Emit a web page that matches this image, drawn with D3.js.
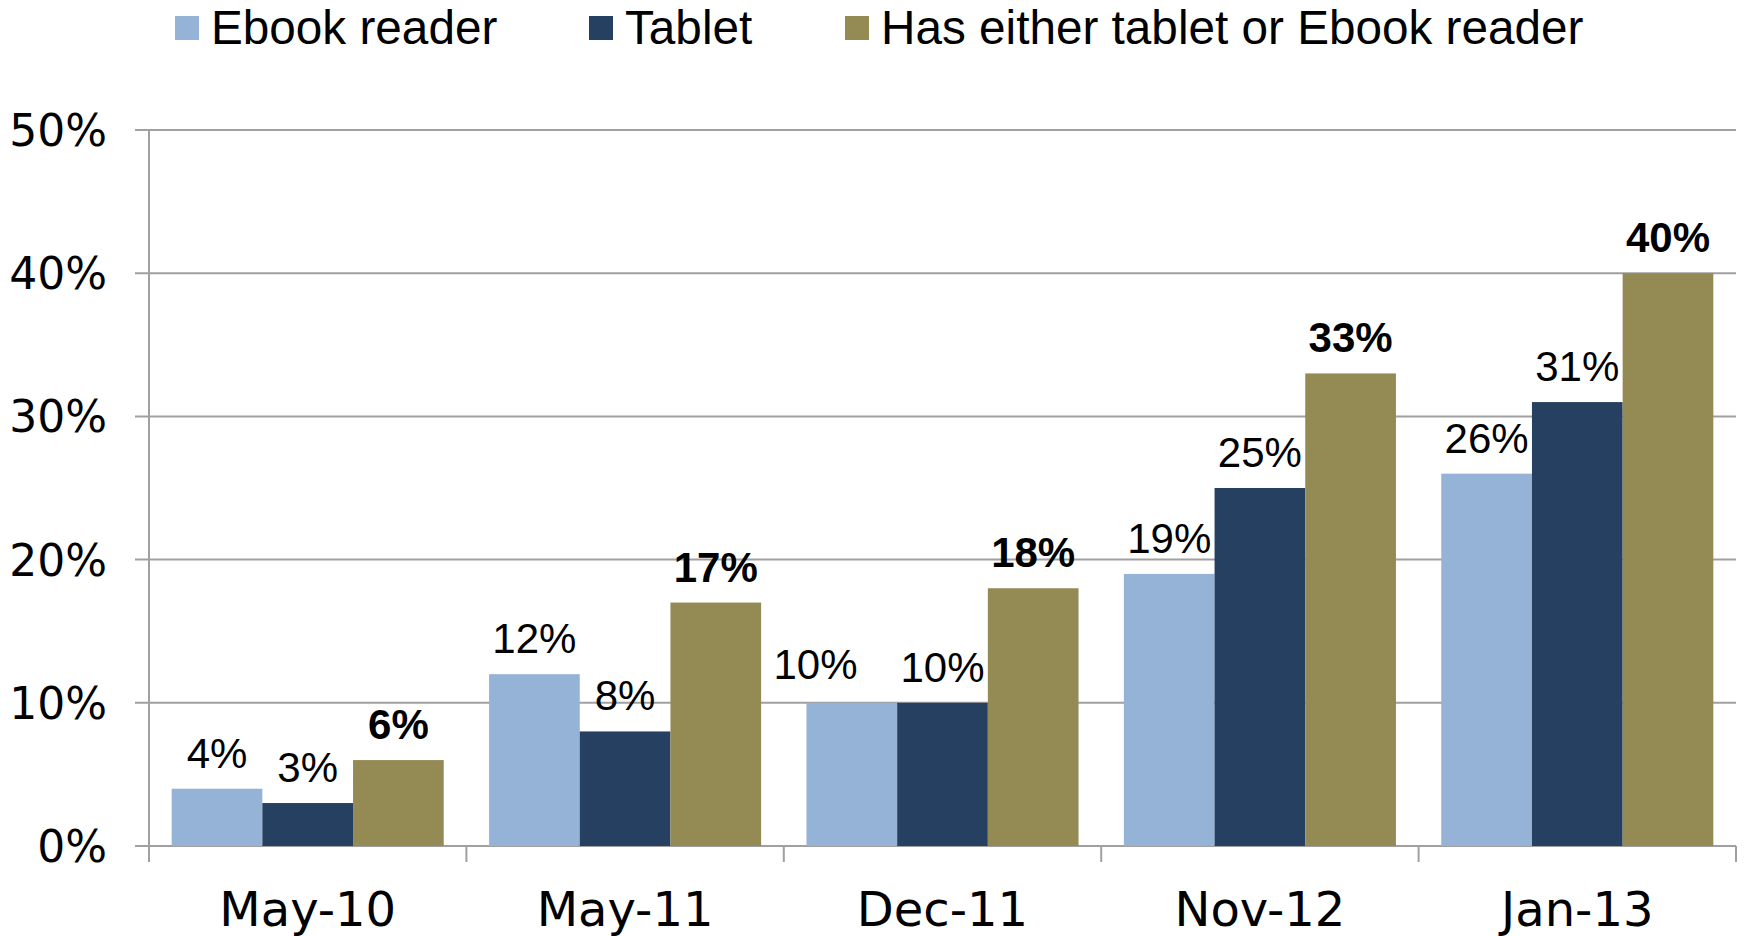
<!DOCTYPE html>
<html lang="en">
<head>
    <meta charset="UTF-8">
    <title>Ebook reader and tablet ownership</title>
    <script src="https://d3js.org/d3.v7.min.js"></script>
    <style>
        body, html {
            margin: 0;
            padding: 0;
            background: #fff;
        }
        .axis-label {
            font-family: "DejaVu Sans", Verdana, sans-serif;
            fill: #000;
        }
        .value-label, .legend text {
            font-family: "Liberation Sans", Arial, sans-serif;
            fill: #000;
        }
    </style>
</head>
<body>
<div id="chart"></div>
<script>
    // chart data
    const categories = ["May-10", "May-11", "Dec-11", "Nov-12", "Jan-13"];
    const seriesNames = ["Ebook reader", "Tablet", "Has either tablet or Ebook reader"];
    const ebookReader = [4, 12, 10, 19, 26];
    const tablet = [3, 8, 10, 25, 31];
    const either = [6, 17, 18, 33, 40];
    const yTicks = [0, 10, 20, 30, 40, 50];
    const colors = ["#95b3d7", "#254061", "#948a54"];

    const seriesValues = [ebookReader, tablet, either];

    const width = 1744, height = 936;
    const margin = {left: 149, right: 8, top: 130, bottom: 90};

    const svg = d3.select("#chart").append("svg")
        .attr("width", width)
        .attr("height", height);

    const x0 = d3.scaleBand()
        .domain(categories)
        .range([margin.left, width - margin.right])
        .padding(0);

    const x1 = d3.scaleBand()
        .domain(d3.range(seriesNames.length))
        .range([0, x0.bandwidth()])
        .paddingInner(0)
        .paddingOuter(0.25);

    const y = d3.scaleLinear()
        .domain([0, 50])
        .range([height - margin.bottom, margin.top]);

    // gridlines
    svg.append("g")
        .selectAll("line")
        .data(yTicks)
        .join("line")
        .attr("x1", margin.left - 14)
        .attr("x2", width - margin.right)
        .attr("y1", d => y(d))
        .attr("y2", d => y(d))
        .attr("stroke", "#a0a0a0")
        .attr("stroke-width", 2);

    // y axis line
    svg.append("line")
        .attr("x1", margin.left).attr("x2", margin.left)
        .attr("y1", y(50)).attr("y2", y(0) + 16)
        .attr("stroke", "#a0a0a0")
        .attr("stroke-width", 2);

    // category boundary ticks
    const bounds = categories.map(c => x0(c) + x0.bandwidth());
    svg.append("g")
        .selectAll("line")
        .data(bounds)
        .join("line")
        .attr("x1", d => d).attr("x2", d => d)
        .attr("y1", y(0)).attr("y2", y(0) + 16)
        .attr("stroke", "#a0a0a0")
        .attr("stroke-width", 2);

    // y tick labels
    svg.append("g")
        .selectAll("text")
        .data(yTicks)
        .join("text")
        .attr("class", "axis-label")
        .attr("x", 107)
        .attr("y", d => y(d) + 16)
        .attr("text-anchor", "end")
        .attr("font-size", 44)
        .text(d => d + "%");

    // x labels
    svg.append("g")
        .selectAll("text")
        .data(categories)
        .join("text")
        .attr("class", "axis-label")
        .attr("x", d => x0(d) + x0.bandwidth() / 2)
        .attr("y", 926)
        .attr("text-anchor", "middle")
        .attr("font-size", 48)
        .text(d => d);

    // bars
    const groups = svg.append("g")
        .selectAll("g")
        .data(categories)
        .join("g")
        .attr("transform", d => `translate(${x0(d)},0)`);

    groups.selectAll("rect")
        .data((c, i) => seriesValues.map((s, j) => ({s: j, v: s[i]})))
        .join("rect")
        .attr("x", d => x1(d.s))
        .attr("width", x1.bandwidth())
        .attr("y", d => y(d.v))
        .attr("height", d => y(0) - y(d.v))
        .attr("fill", d => colors[d.s]);

    groups.selectAll("text")
        .data((c, i) => seriesValues.map((s, j) => ({s: j, v: s[i]})))
        .join("text")
        .attr("class", "value-label")
        .attr("x", d => x1(d.s) + x1.bandwidth() / 2)
        .attr("y", d => y(d.v) - 21)
        .attr("text-anchor", "middle")
        .attr("font-size", 42)
        .attr("font-weight", d => d.s === 2 ? "bold" : "normal")
        .text(d => d.v + "%");

    // nudge a label left when it sits level with and crowds its neighbour
    groups.each(function() {
        const labels = d3.select(this).selectAll("text").nodes();
        for (let i = labels.length - 2; i >= 0; i--) {
            const a = labels[i].getBBox(), b = labels[i + 1].getBBox();
            const gap = b.x - (a.x + a.width);
            if (Math.abs(a.y - b.y) < 30 && gap < 20) {
                const cur = +labels[i].getAttribute("x");
                labels[i].setAttribute("x", cur - (43 - gap));
                labels[i].setAttribute("y", +labels[i].getAttribute("y") - 3);
            }
        }
    });

    // legend
    const legendX = [175, 589, 845];
    const legend = svg.append("g")
        .attr("class", "legend")
        .selectAll("g")
        .data(seriesNames)
        .join("g")
        .attr("transform", (d, i) => `translate(${legendX[i]},0)`);

    legend.append("rect")
        .attr("x", 0)
        .attr("y", 16)
        .attr("width", 24)
        .attr("height", 24)
        .attr("fill", (d, i) => colors[i]);

    legend.append("text")
        .attr("x", 36)
        .attr("y", 44)
        .attr("font-size", 47.7)
        .text(d => d);
</script>
</body>
</html>
